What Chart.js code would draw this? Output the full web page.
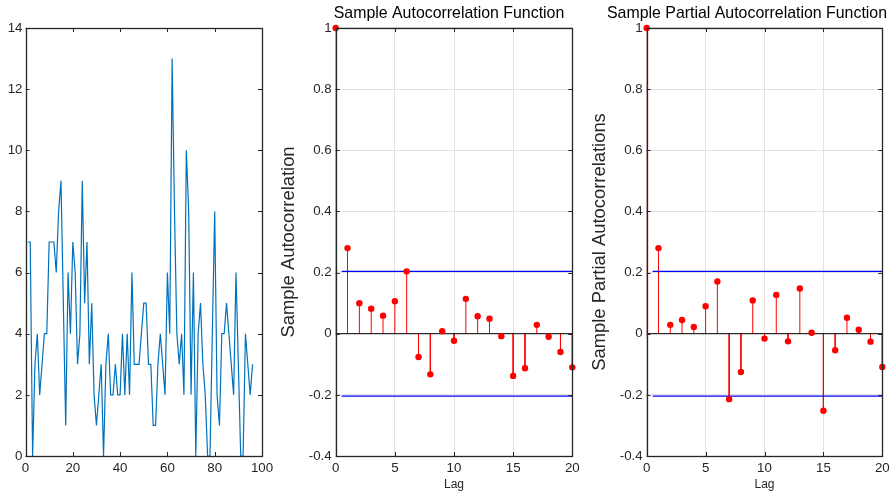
<!DOCTYPE html>
<html>
<head>
<meta charset="utf-8">
<script src="https://cdn.jsdelivr.net/npm/chart.js@4"></script>
<style>
  html, body { margin: 0; padding: 0; background: #fff; overflow: hidden; width: 894px; height: 495px; }
  canvas { position: absolute; top: 0; }
</style>
</head>
<body>
<canvas id="seriesChart" width="280" height="495" style="left:0px;width:280px;height:495px"></canvas>
<canvas id="acfChart" width="342" height="495" style="left:278px;width:342px;height:495px"></canvas>
<canvas id="pacfChart" width="316" height="495" style="left:589px;width:316px;height:495px"></canvas>
<script>
// raw series (time index 1..96)
const series = [7, 7, 0, 3, 4, 2, 3, 4, 4, 7,
  7, 7, 6, 8, 9, 5, 1, 6, 4, 7,
  6, 3, 4, 9, 5, 7, 3, 5, 2, 1,
  2, 3, 0, 3, 4, 2, 2, 3, 2, 2,
  4, 2, 4, 2, 6, 3, 3, 3, 4, 5,
  5, 3, 3, 1, 1, 3, 4, 3, 2, 6,
  4, 13, 8, 4, 3, 4, 2, 10, 8, 2,
  6, 0, 4, 5, 3, 2, 0, 0, 4, 8,
  2, 1, 4, 4, 5, 4, 3, 2, 6, 3,
  0, 0, 4, 3, 2, 3];
const seriesXTicks = [0, 20, 40, 60, 80, 100];
const seriesYTicks = [0, 2, 4, 6, 8, 10, 12, 14];

// correlograms
const lags = [0, 1, 2, 3, 4, 5, 6, 7, 8, 9, 10, 11, 12, 13, 14, 15, 16, 17, 18, 19, 20];
const acf = [1, 0.28, 0.10, 0.082, 0.059, 0.106, 0.204, -0.076, -0.133, 0.008, -0.023,
  0.114, 0.057, 0.049, -0.008, -0.138, -0.113, 0.029, -0.010, -0.060, -0.110];
const pacf = [1, 0.28, 0.029, 0.045, 0.022, 0.090, 0.171, -0.214, -0.125, 0.109, -0.016,
  0.127, -0.025, 0.148, 0.003, -0.252, -0.054, 0.052, 0.013, -0.026, -0.109];
const bound = 0.2041;
const boundLags = [0.5, 20];
const lagTicks = [0, 5, 10, 15, 20];
const corrTicks = [-0.4, -0.2, 0, 0.2, 0.4, 0.6, 0.8, 1];
const corrLabels = ['-0.4', '-0.2', '0', '0.2', '0.4', '0.6', '0.8', '1'];

Chart.defaults.font.family = '"Liberation Sans", Arial, sans-serif';
Chart.defaults.color = '#262626';

const tickFont = { size: 13.3 };

// matlab style box with inward ticks
const boxPlugin = {
  id: 'boxPlugin',
  afterDraw(chart) {
    const { ctx, chartArea: a, scales: { x, y } } = chart;
    const len = 4;
    ctx.save();
    ctx.strokeStyle = '#262626';
    ctx.lineWidth = 1;
    ctx.beginPath();
    x.ticks.forEach(t => {
      const px = Math.round(x.getPixelForValue(t.value)) + 0.5;
      ctx.moveTo(px, a.bottom); ctx.lineTo(px, a.bottom - len);
      ctx.moveTo(px, a.top); ctx.lineTo(px, a.top + len);
    });
    y.ticks.forEach(t => {
      const py = Math.round(y.getPixelForValue(t.value)) + 0.5;
      ctx.moveTo(a.left, py); ctx.lineTo(a.left + len, py);
      ctx.moveTo(a.right, py); ctx.lineTo(a.right - len, py);
    });
    ctx.stroke();
    ctx.lineWidth = 1.3;
    ctx.strokeRect(Math.round(a.left) + 0.5, Math.round(a.top) + 0.5,
      Math.round(a.right) - Math.round(a.left), Math.round(a.bottom) - Math.round(a.top));
    ctx.restore();
  }
};

function fixTicks(arr) {
  return scale => { scale.ticks = arr.map(v => ({ value: v })); };
}

// left: the series
new Chart(document.getElementById('seriesChart'), {
  type: 'scatter',
  data: {
    datasets: [{
      type: 'line',
      data: series.map((v, i) => ({ x: i + 1, y: v })),
      borderColor: '#0072BD',
      borderWidth: 1.2,
      pointRadius: 0,
      tension: 0
    }]
  },
  options: {
    responsive: false,
    animation: false,
    layout: { padding: { left: 0, right: 18, top: 28, bottom: 0 } },
    plugins: { legend: { display: false }, tooltip: { enabled: false } },
    scales: {
      x: {
        type: 'linear', min: 0, max: 100,
        afterBuildTicks: fixTicks(seriesXTicks),
        afterFit: s => { s.height = 39; },
        grid: { display: false, drawTicks: false },
        border: { display: false },
        ticks: { font: tickFont, padding: 4, maxRotation: 0 }
      },
      y: {
        min: 0, max: 14,
        afterBuildTicks: fixTicks(seriesYTicks),
        afterFit: s => { s.width = 25.5; },
        grid: { display: false, drawTicks: false },
        border: { display: false },
        ticks: { font: tickFont, padding: 3 }
      }
    }
  },
  plugins: [boxPlugin]
});

function stemChart(id, values, title, ylabel, padRight) {
  const stems = [];
  lags.forEach((k, i) => {
    stems.push({ x: k, y: 0 }, { x: k, y: values[i] }, { x: k, y: null });
  });
  new Chart(document.getElementById(id), {
    type: 'scatter',
    data: {
      datasets: [
        {
          type: 'scatter',
          data: lags.map((k, i) => ({ x: k, y: values[i] })),
          backgroundColor: '#ff0000',
          borderColor: '#ff0000',
          borderWidth: 0,
          pointRadius: 3.2,
          clip: false,
          order: 0
        },
        {
          type: 'line',
          data: [{ x: 0, y: 0 }, { x: 20, y: 0 }],
          borderColor: '#000000',
          borderWidth: 1,
          pointRadius: 0,
          order: 1
        },
        {
          type: 'line',
          data: boundLags.map(k => ({ x: k, y: bound })),
          borderColor: '#0000ff',
          borderWidth: 1.2,
          pointRadius: 0,
          order: 2
        },
        {
          type: 'line',
          data: boundLags.map(k => ({ x: k, y: -bound })),
          borderColor: '#0000ff',
          borderWidth: 1.2,
          pointRadius: 0,
          order: 2
        },
        {
          type: 'line',
          data: stems,
          borderColor: '#ff0000',
          borderWidth: 1,
          pointRadius: 0,
          spanGaps: false,
          order: 3
        }
      ]
    },
    options: {
      responsive: false,
      animation: false,
      layout: { padding: 0 },
      plugins: {
        legend: { display: false },
        tooltip: { enabled: false },
        title: {
          display: true,
          text: title,
          color: '#000000',
          font: { size: 15.9, weight: 'normal', lineHeight: 1.2 },
          padding: { top: 4, bottom: 4.9 }
        }
      },
      scales: {
        x: {
          type: 'linear', min: 0, max: 20,
          afterBuildTicks: fixTicks(lagTicks),
          afterFit: s => { s.height = 39; },
          grid: { color: '#e2e2e2', drawTicks: false },
          border: { display: false },
          ticks: { font: tickFont, padding: 4, maxRotation: 0 },
          title: { display: true, text: 'Lag', font: { size: 12, lineHeight: 1.2 }, padding: { top: 0, bottom: 2.8 } }
        },
        y: {
          min: -0.4, max: 1,
          afterBuildTicks: fixTicks(corrTicks),
          afterFit: s => { s.width = 57.7; },
          grid: { color: '#e2e2e2', drawTicks: false },
          border: { display: false },
          ticks: { font: tickFont, padding: 4, callback: (v, i) => corrLabels[i] },
          title: { display: true, text: ylabel, font: { size: 18.4, lineHeight: 1.2 }, padding: { top: 0, bottom: 0 } }
        },
        // empty spacer on the right so the title can sit off-centre like the original
        spacer: {
          type: 'linear',
          position: 'right',
          display: true,
          afterFit: s => { s.width = padRight; },
          grid: { display: false, drawTicks: false },
          border: { display: false },
          ticks: { display: false }
        }
      }
    },
    plugins: [boxPlugin]
  });
}

stemChart('acfChart', acf, 'Sample Autocorrelation Function', 'Sample Autocorrelation', 47.7);
stemChart('pacfChart', pacf, 'Sample Partial Autocorrelation Function', 'Sample Partial Autocorrelations', 22.7);
</script>
</body>
</html>
